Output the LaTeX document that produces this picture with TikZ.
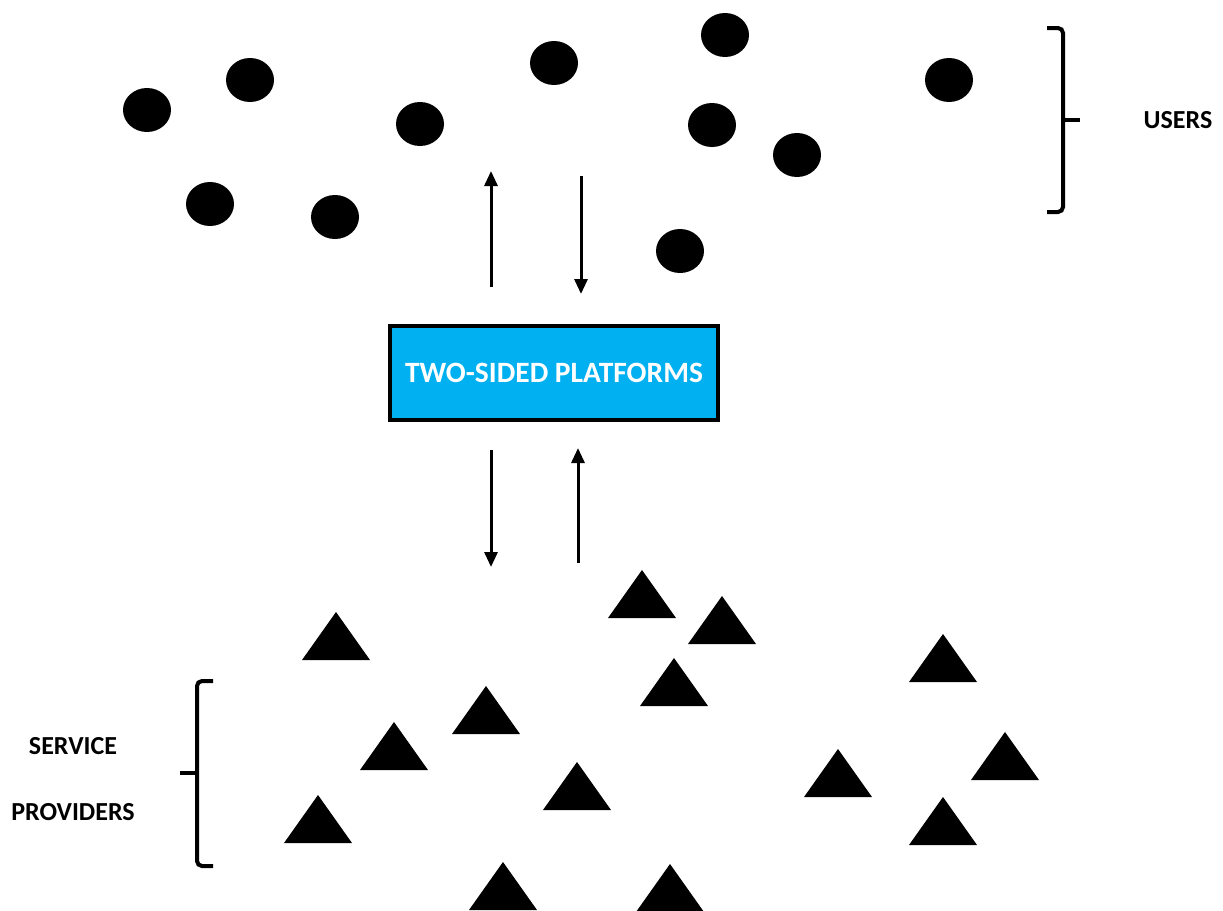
\documentclass[tikz,border=0pt]{standalone}
\usepackage{fontspec}
\setmainfont{Carlito}
\usetikzlibrary{arrows.meta,shapes.geometric}
\definecolor{platblue}{HTML}{00B0F0}
\tikzset{
  user/.style={ellipse,fill=black,inner sep=0pt,minimum width=48pt,minimum height=44pt},
  flow/.style={line width=3pt,-{Triangle[length=15pt,width=13pt]}},
  brace/.style={line width=4pt,rounded corners=5pt},
  label/.style={font=\bfseries\fontsize{26}{30}\selectfont,inner sep=0pt},
  platform/.style={draw=black,line width=4pt,fill=platblue,minimum width=328pt,minimum height=94pt,
    text=white,font=\bfseries\fontsize{29.5}{34}\selectfont}
}
% provider marker: triangle by its apex
\newcommand{\provider}[2]{\fill (#1-34,#2+48) -- (#1,#2) -- (#1+34,#2+48) -- cycle;}
\begin{document}
\begin{tikzpicture}[x=1pt,y=-1pt]
\useasboundingbox (0,0) rectangle (1223,910);

% users
\node[user] (u1) at (147,110) {};
\node[user] (u2) at (250,80) {};
\node[user] (u3) at (420,124) {};
\node[user] (u4) at (554,63) {};
\node[user] (u5) at (725,35) {};
\node[user] (u6) at (712,125) {};
\node[user] (u7) at (797,155) {};
\node[user] (u8) at (949,80) {};
\node[user] (u9) at (210,204) {};
\node[user] (u10) at (335,217) {};
\node[user] (u11) at (680,251) {};

% platform
\node[platform] (plat) at (554,373) {TWO-SIDED PLATFORMS};

% arrow end points
\coordinate (a1s) at (491,287); \coordinate (a1e) at (491,171);
\coordinate (a2s) at (581,176); \coordinate (a2e) at (581,294);
\coordinate (a3s) at (491,450); \coordinate (a3e) at (491,567);
\coordinate (a4s) at (578,563); \coordinate (a4e) at (578,448);
\draw[flow] (a1s) -- (a1e);
\draw[flow] (a2s) -- (a2e);
\draw[flow] (a3s) -- (a3e);
\draw[flow] (a4s) -- (a4e);

% providers
\begin{scope}
\clip (0,0) rectangle (1223,910);
\provider{336}{612}
\provider{642}{570}
\provider{722}{596}
\provider{674}{658}
\provider{486}{686}
\provider{394}{722}
\provider{577}{762}
\provider{318}{795}
\provider{943}{634}
\provider{1005}{732}
\provider{838}{749}
\provider{943}{797}
\provider{503}{862}
\provider{670}{864}
\end{scope}

% braces
\coordinate (ub) at (1063,120);
\draw[brace] (1047,28) -- (1063,28) -- (1063,212) -- (1047,212);
\draw[line width=4pt] (ub) -- (1080,120);
\coordinate (sb) at (197,773);
\draw[brace] (213,681) -- (197,681) -- (197,866) -- (213,866);
\draw[line width=4pt] (sb) -- (180,773);

% labels
\node[label] (users) at (1178,120) {USERS};
\node[label] (serv) at (73,746) {SERVICE};
\node[label] (prov) at (73,812) {PROVIDERS};
\end{tikzpicture}
\end{document}
